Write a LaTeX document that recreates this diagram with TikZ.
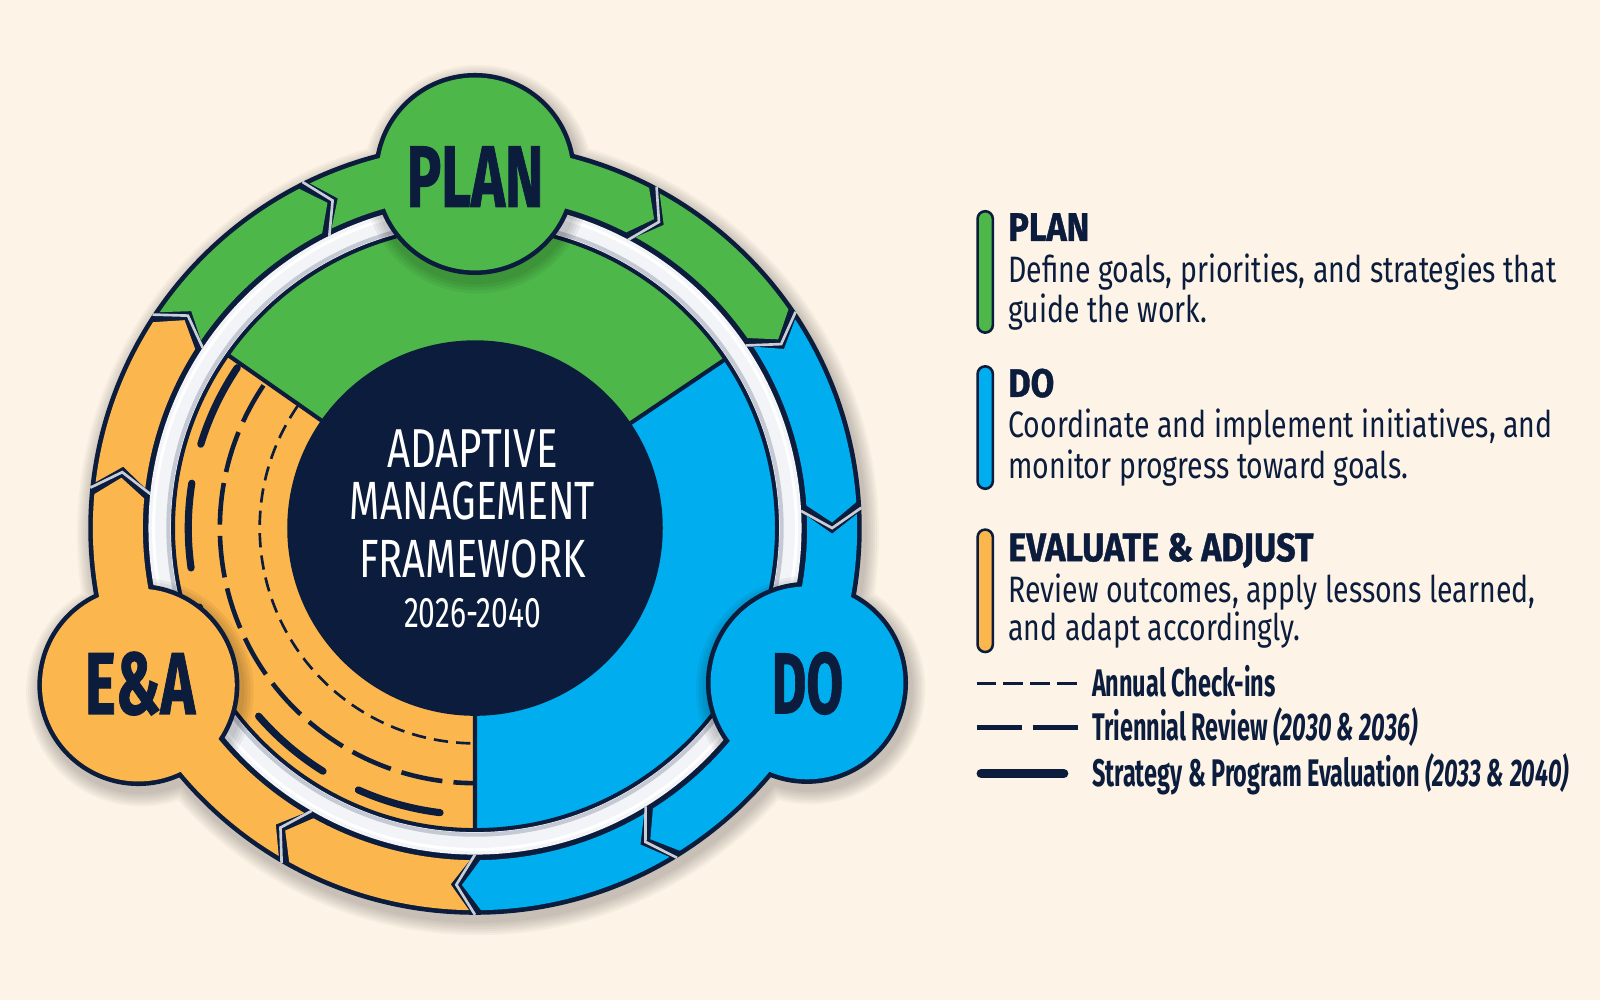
\documentclass[tikz,border=0pt]{standalone}
\usepackage{fontspec}
\usepackage{graphicx}
\setmainfont{Fira Sans}
\newfontfamily\titlefont{Fira Sans}
\newfontfamily\bubblefont[FakeBold=1.2]{Fira Sans}
\newfontfamily\headfont[FakeStretch=0.86,FakeBold=1]{Fira Sans}
\newfontfamily\descfont[FakeStretch=0.775]{Fira Sans}
\newfontfamily\keyfont[FakeStretch=0.61]{Fira Sans}
\definecolor{cream}{HTML}{FDF4E7}
\definecolor{navy}{HTML}{0B1C3C}
\definecolor{pgreen}{HTML}{4DB849}
\definecolor{pblue}{HTML}{00AEEF}
\definecolor{porange}{HTML}{FCB64E}
\definecolor{ringwhite}{HTML}{F3F4F7}
\definecolor{ringgray}{HTML}{C5C9D4}
\definecolor{jointgray}{HTML}{C9CDD6}
\tikzset{
  headtxt/.style={anchor=base west, inner sep=0pt, text=navy, font=\headfont\bfseries\fontsize{39pt}{39pt}\selectfont},
  desctxt/.style={anchor=base west, inner sep=0pt, text=navy, font=\descfont\fontsize{36pt}{36pt}\selectfont},
  keytxt/.style={anchor=base west, inner sep=0pt, text=navy, font=\keyfont\bfseries\fontsize{37.7pt}{38pt}\selectfont},
  titletxt/.style={anchor=base, inner sep=0pt, text=white},
  bubbletxt/.style={anchor=base, inner sep=0pt, text=navy},
  legendbar/.style={draw=navy, line width=2.5pt, rounded corners=7.5pt}
}
\begin{document}
\begin{tikzpicture}[x=1pt,y=1pt]
\useasboundingbox (0,0) rectangle (1568,980);
\fill[cream] (0,0) rectangle (1568,980);
\begin{scope}[shift={(465.5,462.5)}]
  \coordinate (C) at (0,0);
  \coordinate (bP) at (90:347pt);
  \coordinate (bD) at (-25:359pt);
  \coordinate (bE) at (205:364pt);
  % soft outer shadow
  \foreach \k in {14,12,10,8,6,4,2}{
    \pgfmathsetmacro\rr{379+\k}
    \pgfmathsetmacro\rb{99+\k}
    \fill[black, opacity=0.03, shift={(3,-6)}] (0,0) circle[radius=\rr pt]
      (90:347pt) circle[radius=\rb pt] (-25:359pt) circle[radius=\rb pt] (205:364pt) circle[radius=\rb pt];
  }
  % inner sectors
  \fill[pgreen] (0,0) -- (34:300pt) arc[start angle=34, end angle=145, radius=300pt] -- cycle;
  \fill[porange] (0,0) -- (145:300pt) arc[start angle=145, end angle=270, radius=300pt] -- cycle;
  \fill[pblue] (0,0) -- (270:300pt) arc[start angle=270, end angle=394, radius=300pt] -- cycle;
  \draw[navy, line width=4pt] (C) -- (34:300pt) (C) -- (145:300pt) (C) -- (270:300pt);
  % review arcs
  \foreach \s in {146,171,196,221,246}{
    \pgfmathsetmacro\e{\s+17}
    \draw[navy, line width=7pt, line cap=round] (\s:281pt) arc[start angle=\s, end angle=\e, radius=281pt];
  }
  \draw[navy, line width=4.5pt, dash pattern=on 41pt off 11pt] (146:250pt) arc[start angle=146, end angle=270, radius=250pt];
  \draw[navy, line width=2.6pt, dash pattern=on 14pt off 8pt] (145.5:211pt) arc[start angle=145.5, end angle=270, radius=211pt];
  % center disc
  \fill[navy] (C) circle[radius=184pt];
  % ring underlay and white ring
  \fill[navy, even odd rule] (C) circle[radius=379pt] circle[radius=294pt];
  \fill[ringwhite, even odd rule] (C) circle[radius=320pt] circle[radius=298pt];
  \draw[ringgray, line width=4pt] (C) circle[radius=300.5pt];
  \draw[white, line width=3pt] (C) circle[radius=315pt];
  % bubble shadows inside
  \begin{scope}
    \clip (C) circle[radius=320pt];
    \foreach \k in {12,9,6,3}{
      \pgfmathsetmacro\rb{99+\k}
      \fill[black, opacity=0.05, shift={(2,-6)}] (90:347pt) circle[radius=\rb pt] (-25:359pt) circle[radius=\rb pt] (205:364pt) circle[radius=\rb pt];
    }
  \end{scope}
  % bubble outlines
  \draw[navy, line width=9pt] (bP) circle[radius=94.5pt] (bD) circle[radius=94.5pt] (bE) circle[radius=94.5pt];
  % joints
  \foreach \j in {146.5,116.5,62,34,3,-58.5,-90,-120,-186}{
    \pgfmathsetmacro\tj{\j-3}
    \draw[jointgray, line width=2.6pt] (\j:379pt) -- (\tj:350pt) -- (\j:320pt);
  }
  % band segments
  \foreach \a/\b/\c in {146.5/116.5/pgreen, 116.5/62/pgreen, 62/34/pgreen, 34/3/pblue, 3/-58.5/pblue, -58.5/-90/pblue, -90/-120/porange, -120/-186/porange, -186/-213.5/porange}{
    \pgfmathsetmacro\sa{\a-0.9}
    \pgfmathsetmacro\sb{\b+0.9}
    \pgfmathsetmacro\ta{\sa-3}
    \pgfmathsetmacro\tb{\sb-3}
    \fill[\c] (\sa:374.5pt) arc[start angle=\sa, end angle=\sb, radius=374.5pt] -- (\tb:350pt) -- (\sb:325.5pt) arc[start angle=\sb, end angle=\sa, radius=325.5pt] -- (\ta:350pt) -- cycle;
  }
  % bubble fills
  \fill[pgreen] (bP) circle[radius=94.5pt];
  \fill[pblue] (bD) circle[radius=94.5pt];
  \fill[porange] (bE) circle[radius=94.5pt];
\end{scope}
% center title
\node[titletxt] (tA) at (463,521.4) {\resizebox{167pt}{37pt}{\titlefont ADAPTIVE}};
\node[titletxt] (tM) at (463,470.4) {\resizebox{240pt}{37pt}{\titlefont MANAGEMENT}};
\node[titletxt] (tF) at (463,414.5) {\resizebox{222pt}{37pt}{\titlefont FRAMEWORK}};
\node[titletxt] (tY) at (463,365.5) {\resizebox{134pt}{28.5pt}{\titlefont 2026-2040}};
% bubble labels
\node[bubbletxt] (lP) at (465.5,777.4) {\resizebox{134pt}{59pt}{\bubblefont\bfseries PLAN}};
\node[bubbletxt] (lD) at (791.3,281) {\resizebox{70pt}{60pt}{\bubblefont\bfseries DO}};
\node[bubbletxt] (lE) at (137.2,280.3) {\resizebox{108pt}{61pt}{\bubblefont\bfseries E\&A}};
% legend
\draw[legendbar, fill=pgreen] (958,654) rectangle (973,773);
\draw[legendbar, fill=pblue] (958,501) rectangle (973,621);
\draw[legendbar, fill=porange] (958,341) rectangle (973,461);
\node[headtxt] (hP) at (988,744) {PLAN};
\node[desctxt] (dP1) at (988,703) {Define goals, priorities, and strategies that};
\node[desctxt] (dP2) at (988,664) {guide the work.};
\node[headtxt] (hD) at (988,591) {DO};
\node[desctxt] (dD1) at (988,551) {Coordinate and implement initiatives, and};
\node[desctxt] (dD2) at (988,511) {monitor progress toward goals.};
\node[headtxt] (hE) at (988,430) {EVALUATE \& ADJUST};
\node[desctxt] (dE1) at (988,390) {Review outcomes, apply lessons learned,};
\node[desctxt] (dE2) at (988,352) {and adapt accordingly.};
\coordinate (k1a) at (957,310); \coordinate (k1b) at (1056,310);
\coordinate (k2a) at (957,267); \coordinate (k2b) at (1057,267);
\coordinate (k3a) at (961.5,222); \coordinate (k3b) at (1042.5,222);
\draw[navy, line width=3.4pt, dash pattern=on 19.5pt off 6.9pt] (k1a) -- (k1b);
\draw[navy, line width=5pt, dash pattern=on 44.5pt off 10.5pt] (k2a) -- (k2b);
\draw[navy, line width=9pt, line cap=round] (k3a) -- (k3b);
\node[keytxt] (kt1) at (1070,297) {Annual Check-ins};
\node[keytxt] (kt2) at (1070,254) {Triennial Review \textit{(2030 \& 2036)}};
\node[keytxt] (kt3) at (1070,209) {Strategy \& Program Evaluation \textit{(2033 \& 2040)}};
\end{tikzpicture}
\end{document}
